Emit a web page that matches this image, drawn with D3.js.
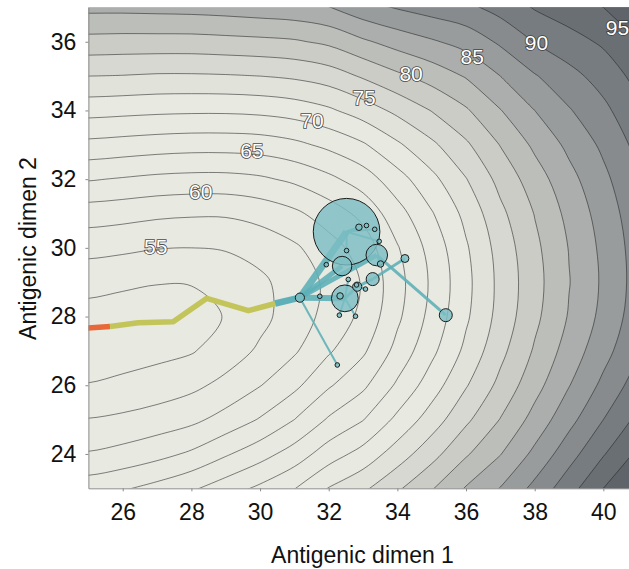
<!DOCTYPE html>
<html><head><meta charset="utf-8">
<script src="https://cdn.jsdelivr.net/npm/d3@7"></script>
<style>
html,body{margin:0;padding:0;background:#fff;}
svg{display:block;font-family:"Liberation Sans",Arial,Helvetica,sans-serif;}
</style></head><body>
<svg id="chart" width="629" height="569"></svg>
<script>
// ---------- data ----------
const gridX = [24,25,26,27,28,29,30,31,32,33,34,35,36,37,38,39,40,41,42];
const gridY = [38,37,36,35,34,33,32,31,30,29,28,27,26,25,24,23,22];
const fitnessRows = [
[87.3,87.3,87.4,87.5,87.7,88.1,88.4,88.6,89.4,91.1,92.0,92.6,93.0,94.2,95.7,96.6,97.3,98.8,100.4],
[83.2,83.2,83.2,83.3,83.4,83.6,83.9,84.2,84.9,86.6,87.7,88.6,89.4,90.9,92.7,93.9,95.0,96.8,98.6],
[79.1,79.1,79.0,79.0,79.0,79.2,79.4,79.7,80.5,82.1,83.5,84.7,85.9,87.9,90.1,91.5,92.9,94.9,97.0],
[75.0,75.0,74.9,74.7,74.7,74.8,75.0,75.4,76.2,77.8,79.5,81.0,82.7,85.0,87.3,89.2,91.0,93.3,95.6],
[70.9,70.9,70.7,70.5,70.4,70.4,70.6,71.1,72.1,73.7,75.6,77.6,79.7,82.4,85.0,87.3,89.4,91.9,94.4],
[66.8,66.8,66.5,66.2,66.0,66.0,66.2,66.9,68.1,69.7,72.1,74.5,77.1,80.1,83.0,85.6,88.0,90.7,93.4],
[62.7,62.7,62.3,61.9,61.7,61.7,62.1,63.0,64.4,66.2,69.0,71.8,74.9,78.3,81.3,84.2,86.9,89.7,92.6],
[58.7,58.7,58.4,58.0,57.8,57.8,58.4,59.5,61.2,63.2,66.5,69.8,73.2,76.9,80.1,83.2,86.1,89.0,92.0],
[55.8,55.8,55.5,55.1,55.0,55.2,55.9,57.1,59.0,61.1,64.8,68.4,72.2,76.0,79.4,82.6,85.6,88.6,91.7],
[53.3,53.3,52.9,52.6,52.6,53.3,54.5,56.1,58.0,60.2,64.1,67.9,71.8,75.7,79.1,82.4,85.4,88.5,91.6],
[51.6,51.6,51.4,51.3,51.7,52.6,54.3,56.2,58.3,60.6,64.5,68.3,72.1,75.9,79.4,82.7,85.7,88.8,91.9],
[51.2,51.2,51.5,51.8,52.3,53.7,55.4,57.2,59.7,62.1,65.8,69.4,73.1,76.8,80.3,83.6,86.6,89.7,92.8],
[52.6,52.6,53.0,53.6,54.4,55.7,57.4,59.4,62.2,64.5,67.9,71.3,74.8,78.2,81.6,84.9,88.1,91.2,94.3],
[55.1,55.1,55.5,56.1,56.9,58.4,60.2,62.5,65.3,67.4,70.6,73.7,77.0,80.1,83.4,86.7,90.0,93.1,96.2],
[57.7,57.7,58.3,59.2,60.4,62.2,64.0,66.1,68.8,70.9,73.7,76.6,79.7,82.4,85.6,89.0,92.3,95.5,98.6],
[61.4,61.4,62.2,63.3,64.6,66.3,68.0,69.9,72.6,74.5,77.1,79.8,82.7,85.1,88.2,91.5,95.0,98.2,101.3],
[65.5,65.5,66.3,67.4,68.8,70.5,72.0,73.8,76.5,78.4,80.8,83.3,86.0,88.0,91.0,94.4,98.1,101.3,104.4]
];
const lineLevels = [52.5,55,57.5,60,62.5,65,67.5,70,72.5,75,77.5,80,82.5,85,87.5,90,92.5,95,97.5,100];
const fillLevels = [72.5,75,77.5,80,82.5,85,87.5,90,92.5,95,97.5,100];

const labelText = ["55","60","65","70","75","80","85","90","95"];
const labelX = [26.96,28.27,29.76,31.51,33.03,34.40,36.18,38.05,40.41];
const labelY = [30.05,31.64,32.83,33.70,34.39,35.07,35.56,35.97,36.42];

const xTicks = [26,28,30,32,34,36,38,40];
const yTicks = [24,26,28,30,32,34,36];

const trunkX = [24.6,25.63,26.45,27.47,28.45,29.66,30.44,31.16];
const trunkY = [27.64,27.71,27.82,27.85,28.53,28.17,28.38,28.55];
const trunkEra = ["early","mid","mid","mid","mid","mid","late"]; // per segment

const nodeX = [31.16,32.52,32.39,33.40,32.47,33.28,35.41,32.83,34.22,32.88,33.51,32.33,33.10,33.34,33.47,32.52,31.93,32.57,33.07,31.74,32.31,32.78,32.25,32.81];
const nodeY = [28.55,30.47,29.47,29.79,28.53,29.09,28.04,28.87,29.69,30.60,29.53,28.60,30.65,30.54,30.19,29.92,29.51,29.08,28.80,28.59,28.04,28.01,26.59,28.92];
const nodeCount = [4,210,18,22,34,8,8,4,3,2,2,2,1,1,1,1,1,1,1,1,1,1,1,1];

const edgeFrom = [0,0,0,0,0,1,1,1,1,1,3,3,4,4,4,4,7,7,5];
const edgeTo   = [1,2,3,4,22,9,12,13,14,15,10,6,20,21,17,7,5,18,8];
const edgeWeight = [6,4,4,5,1,1.5,1,1,1,1,1.5,2,1,1,1,2,2,1,1.8];

// ---------- styles ----------
const baseFill = "#e8e9e1";
const bandColors = ["#e1e2da","#d7d8d1","#cbccc6","#bcbeba","#abaeac","#989c9d","#878b8d","#777c80","#6a6f74","#5f646b","#565b63","#4f545c"];
const eraColor = {early:"#e8683a", mid:"#c3c55a", late:"#5eb0b8"};
const teal = "#5eb0b8";
const FONT = '"Liberation Sans",Arial,Helvetica,sans-serif';

// ---------- chart ----------
const W = 629, H = 569;
const x = d3.scaleLinear().domain([25, 41]).range([88.4, 637.7]);
const y = d3.scaleLinear().domain([23, 37]).range([488.3, 7.4]);
const svg = d3.select("#chart");

svg.append("defs").append("clipPath").attr("id","plotClip").append("rect")
  .attr("x", x(25)).attr("y", y(37)).attr("width", W - x(25)).attr("height", y(23) - y(37));

const plot = svg.append("g").attr("clip-path","url(#plotClip)");
plot.append("rect").attr("x", x(25)).attr("y", y(37))
  .attr("width", W - x(25)).attr("height", y(23) - y(37)).attr("fill", baseFill);

const nx = gridX.length, ny = gridY.length;
const flat = fitnessRows.flat();
const gen = d3.contours().size([nx, ny]);
const gxs = d3.scaleLinear().domain([0.5, nx - 0.5]).range([gridX[0], gridX[nx - 1]]);
const gys = d3.scaleLinear().domain([0.5, ny - 0.5]).range([gridY[0], gridY[ny - 1]]);
const ringLine = d3.line()
  .x(p => x(gxs(p[0]))).y(p => y(gys(p[1])))
  .curve(d3.curveCatmullRomClosed.alpha(0.5));
const toPath = g => g.coordinates.map(poly => poly.map(r => ringLine(r.slice(0, -1))).join("")).join("");

fillLevels.forEach((lv, i) => {
  plot.append("path").attr("d", toPath(gen.contour(flat, lv))).attr("fill", bandColors[i]);
});
lineLevels.forEach(lv => {
  plot.append("path").attr("d", toPath(gen.contour(flat, lv)))
    .attr("fill","none").attr("stroke","rgba(35,35,35,0.62)").attr("stroke-width",0.9);
});

// contour labels
labelText.forEach((t, i) => {
  plot.append("text").attr("x", x(labelX[i])).attr("y", y(labelY[i]))
    .attr("text-anchor","middle").attr("dominant-baseline","central")
    .attr("font-family", FONT).attr("font-size", 21)
    .attr("fill","#ffffff").attr("stroke","rgba(55,55,55,0.9)").attr("stroke-width",1.7)
    .attr("paint-order","stroke").text(t);
});

// lineage trunk
const lineGen = d3.line().x(d => x(d[0])).y(d => y(d[1]));
let segStart = 0;
for (let s = 1; s <= trunkEra.length; s++) {
  if (s === trunkEra.length || trunkEra[s] !== trunkEra[segStart]) {
    const pts = [];
    for (let k = segStart; k <= s; k++) pts.push([trunkX[k], trunkY[k]]);
    const era = trunkEra[segStart];
    plot.append("path").attr("d", lineGen(pts)).attr("fill","none")
      .attr("stroke", eraColor[era]).attr("stroke-width", era === "late" ? 6.5 : 5.5)
      .attr("stroke-linejoin","round");
    segStart = s;
  }
}

// branches
const wScale = d3.scaleLinear().domain([1, 6]).range([2, 7]);
edgeFrom.forEach((f, i) => {
  const t = edgeTo[i];
  plot.append("line")
    .attr("x1", x(nodeX[f])).attr("y1", y(nodeY[f]))
    .attr("x2", x(nodeX[t])).attr("y2", y(nodeY[t]))
    .attr("stroke", teal).attr("stroke-opacity", 0.9)
    .attr("stroke-width", wScale(edgeWeight[i]));
});

// nodes
const rScale = d3.scaleSqrt().domain([0, 210]).range([0, 33.3]);
const order = d3.range(nodeX.length).sort((a, b) => nodeCount[b] - nodeCount[a]);
plot.selectAll("circle.node").data(order).enter().append("circle")
  .attr("class","node")
  .attr("cx", i => x(nodeX[i])).attr("cy", i => y(nodeY[i]))
  .attr("r", i => rScale(nodeCount[i]))
  .attr("fill", "#7dbec3").attr("fill-opacity", 0.82)
  .attr("stroke", "#1c1c1c").attr("stroke-width", 1);

// axes
const yAxis = d3.axisLeft(y).tickValues(yTicks).tickSize(3).tickPadding(9).tickSizeOuter(0).tickFormat(d3.format("d"));
const gY = svg.append("g").attr("transform", `translate(${x(25)},0)`).call(yAxis);
const xAxis = d3.axisBottom(x).tickValues(xTicks).tickSize(3).tickPadding(12.5).tickSizeOuter(0).tickFormat(d3.format("d"));
const gX = svg.append("g").attr("transform", `translate(0,${y(23)})`).call(xAxis);
[gX, gY].forEach(g => {
  g.attr("font-family", FONT).attr("font-size", 23);
  g.select(".domain").attr("stroke", "#8a8a8a");
  g.selectAll(".tick line").attr("stroke", "#8a8a8a");
  g.selectAll(".tick text").attr("fill", "#111");
});

// titles
svg.append("text").attr("x", 362.5).attr("y", 563).attr("text-anchor","middle")
  .attr("font-family", FONT).attr("font-size", 23).attr("fill","#111").text("Antigenic dimen 1");
svg.append("text").attr("transform","translate(36,248.5) rotate(-90)").attr("text-anchor","middle")
  .attr("font-family", FONT).attr("font-size", 23).attr("fill","#111").text("Antigenic dimen 2");
</script>
</body></html>
